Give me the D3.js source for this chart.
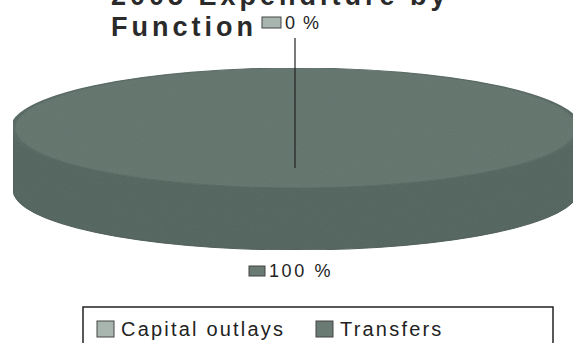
<!DOCTYPE html>
<html>
<head>
<meta charset="utf-8">
<script src="https://cdn.jsdelivr.net/npm/d3@7"></script>
<style>
  html, body { margin: 0; padding: 0; background: #fff; }
  svg { display: block; }
  text { font-family: Arial, "Liberation Sans", sans-serif; }
</style>
</head>
<body>
<svg id="chart" width="573" height="343"></svg>
<script>
// Expenditure shares by function
const categories = ["Capital outlays", "Transfers"];
const values = [0, 100];
const percentLabels = ["0 %", "100 %"];
const titleLines = ["2005 Expenditure by", "Function"];

const topColors = ["#a9b6af", "#6a7b74"];
const sideColors = ["#8e9b94", "#5c6c66"];

const W = 573, H = 343;
const svg = d3.select("#chart");

// Fine print grain on the pie surfaces
const defs = svg.append("defs");
const grain = defs.append("filter").attr("id", "grain")
  .attr("x", 0).attr("y", 0).attr("width", 1).attr("height", 1);
grain.append("feTurbulence").attr("type", "fractalNoise")
  .attr("baseFrequency", 0.9).attr("numOctaves", 2).attr("seed", 3).attr("result", "noise");
grain.append("feColorMatrix").attr("in", "noise").attr("type", "matrix")
  .attr("values", "0 0 0 0 0  0 0 0 0 0  0 0 0 0 0  0 0 0 0.16 0").attr("result", "dots");
grain.append("feComposite").attr("in", "dots").attr("in2", "SourceGraphic")
  .attr("operator", "in").attr("result", "clipped");
grain.append("feMerge").selectAll("feMergeNode")
  .data(["SourceGraphic", "clipped"]).join("feMergeNode").attr("in", d => d);

// Ellipse geometry of the tilted pie
const cx = 296, cy = 128, rx = 283, ry = 60, depth = 62;

const pie = d3.pie().sort(null).value(d => d)(values);

// Point on the top ellipse; angle measured clockwise from 12 o'clock
const px = a => cx + rx * Math.sin(a);
const py = (a, dz = 0) => cy - ry * Math.cos(a) + dz;

const body = svg.append("g").attr("filter", "url(#grain)");

// Side walls: only the front half (angles between PI/2 and 3PI/2) is visible
const wall = body.append("g");
pie.forEach((s, i) => {
  const a0 = Math.max(s.startAngle, Math.PI / 2);
  const a1 = Math.min(s.endAngle, 3 * Math.PI / 2);
  if (a1 <= a0) return;
  const large = (a1 - a0) > Math.PI ? 1 : 0;
  const d = `M${px(a0)},${py(a0)}` +
    `A${rx},${ry} 0 ${large} 1 ${px(a1)},${py(a1)}` +
    `L${px(a1)},${py(a1, depth)}` +
    `A${rx},${ry} 0 ${large} 0 ${px(a0)},${py(a0, depth)}Z`;
  wall.append("path")
    .attr("d", d)
    .attr("fill", sideColors[i])
    .attr("stroke", "#55645e")
    .attr("stroke-width", 1);
});

// Top faces, drawn with d3.arc and flattened into the ellipse
const arc = d3.arc().innerRadius(0).outerRadius(rx);
body.append("g")
  .attr("transform", `translate(${cx},${cy}) scale(1,${ry / rx})`)
  .selectAll("path")
  .data(pie.filter(s => s.endAngle > s.startAngle))
  .join("path")
  .attr("d", arc)
  .attr("fill", d => topColors[d.index])
  .attr("stroke", "#5f706a")
  .attr("stroke-width", rx / ry);

// Leader line for the zero slice
const zeroAngle = (pie[0].startAngle + pie[0].endAngle) / 2;
svg.append("line")
  .attr("x1", px(zeroAngle) - 1).attr("x2", px(zeroAngle) - 1)
  .attr("y1", 38).attr("y2", py(zeroAngle) + 100)
  .attr("stroke", "#222").attr("stroke-width", 1.2);

// Percent labels with a swatch
function percentLabel(i, x, baseline, sw, sh, spacing) {
  const g = svg.append("g");
  g.append("text")
    .attr("x", x + sw + 4).attr("y", baseline)
    .attr("font-size", 18).attr("letter-spacing", spacing)
    .attr("fill", "#222")
    .text(percentLabels[i]);
  g.append("rect")
    .attr("x", x).attr("y", baseline - sh - 1)
    .attr("width", sw).attr("height", sh)
    .attr("fill", topColors[i]).attr("stroke", "#444").attr("stroke-width", 1);
}
const midAngle = s => (s.startAngle + s.endAngle) / 2;
percentLabel(0, px(midAngle(pie[0])) - 34, 29, 19, 11, 1.5);
percentLabel(1, px(midAngle(pie[1])) - 47, py(midAngle(pie[1]), depth) + 27, 16, 10, 2.6);

// Title, two left-aligned lines, first one partly above the frame
svg.append("g").selectAll("text")
  .data(titleLines)
  .join("text")
  .attr("x", 111)
  .attr("y", (d, i) => 5 + i * 31)
  .attr("font-size", 27).attr("font-weight", "bold")
  .attr("letter-spacing", 4)
  .attr("fill", "#2a2a2a")
  .text(d => d);

// Legend box, clipped by the bottom of the frame
const legend = svg.append("g");
legend.append("rect")
  .attr("x", 83).attr("y", 307).attr("width", 470).attr("height", 60)
  .attr("fill", "#fff").attr("stroke", "#222").attr("stroke-width", 1.5);
const legendX = [97, 316];
categories.forEach((c, i) => {
  legend.append("rect")
    .attr("x", legendX[i]).attr("y", 321).attr("width", 17).attr("height", 16)
    .attr("fill", topColors[i]).attr("stroke", "#444").attr("stroke-width", 1);
  legend.append("text")
    .attr("x", legendX[i] + 24).attr("y", 336)
    .attr("font-size", 20).attr("letter-spacing", 2.2)
    .attr("fill", "#222")
    .text(c);
});
</script>
</body>
</html>
